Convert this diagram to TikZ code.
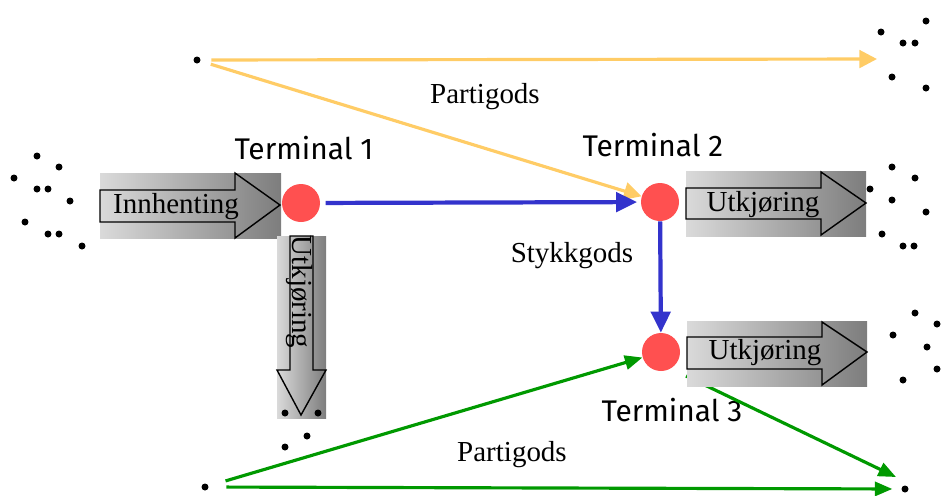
\documentclass[tikz,border=0pt]{standalone}
\usepackage{fontspec}
\setmainfont{Liberation Serif}
\newfontfamily\termfont{Fira Sans}
\usetikzlibrary{arrows.meta}
\definecolor{termred}{RGB}{255,80,80}
\definecolor{stykkblue}{RGB}{51,51,204}
\definecolor{partiyellow}{RGB}{255,204,102}
\definecolor{partigreen}{RGB}{0,153,0}
\definecolor{arrlight}{RGB}{218,218,218}
\definecolor{arrdark}{RGB}{125,125,125}
\tikzset{
  terminal/.style={circle, fill=termred, inner sep=0pt, minimum size=0.76cm},
  dot/.style={circle, fill=black, inner sep=0pt, minimum size=0.14cm},
  tname/.style={font=\termfont\fontsize{17}{20}\selectfont},
  lbl/.style={font=\fontsize{16.5}{19}\selectfont, inner sep=0pt},
  blockline/.style={draw=black, line width=0.8pt, line join=miter},
  stykk/.style={draw=stykkblue, line width=2.4pt, -{Triangle[length=12pt,width=11pt]}},
  partiy/.style={draw=partiyellow, line width=1.8pt, -{Triangle[length=10pt,width=10pt]}},
  partig/.style={draw=partigreen, line width=1.8pt, -{Triangle[length=10pt,width=8pt]}}
}
\begin{document}
\begin{tikzpicture}[x=0.02cm,y=-0.02cm]
  \useasboundingbox (0,0) rectangle (943,495);

  % terminals
  \node[terminal] (t1) at (301,203) {};
  \node[terminal] (t2) at (660,202) {};
  \node[terminal] (t3) at (661,352) {};
  \node[tname] (t1name) at (304,148) {Terminal 1};
  \node[tname] (t2name) at (653,145) {Terminal 2};
  \node[tname] (t3name) at (672,410) {Terminal 3};

  % customers
  \foreach \p [count=\i] in {(37,156),(59,167),(14,178),(37,189),(48,189),(70,201),(25,222),(48,234),(59,234),(82,246)}
    \node[dot] (l\i) at \p {};
  \foreach \p [count=\i] in {(926,21),(881,32),(903,43),(915,43),(892,77),(926,88)}
    \node[dot] (a\i) at \p {};
  \foreach \p [count=\i] in {(870,189),(892,167),(915,178),(892,200),(926,212),(882,234),(903,246),(914,246)}
    \node[dot] (b\i) at \p {};
  \foreach \p [count=\i] in {(915,313),(937,324),(893,335),(927,347),(937,369),(903,380)}
    \node[dot] (c\i) at \p {};
  \foreach \p [count=\i] in {(307,436),(285,447)}
    \node[dot] (d\i) at \p {};
  \node[dot] (ysrc) at (197,60) {};
  \node[dot] (gsrc) at (205,487) {};
  \node[dot] (gdst) at (905,489) {};
  \coordinate (yend) at (877,59);
  \coordinate (gout) at (686,376);
  \coordinate (gend) at (896,477);

  % partigods
  \draw[partiy, shorten <=6pt] (ysrc) -- (yend);
  \draw[partiy, shorten <=6pt] (ysrc) -- (t2);
  \node[lbl] (py) at (485,97) {Partigods};
  \draw[partig, shorten <=10pt] (gsrc) -- (t3);
  \draw[partig, shorten <=10pt, shorten >=5pt] (gsrc) -- (gdst);
  \draw[partig] (gout) -- (gend);
  \node[lbl] (pg) at (512,455) {Partigods};

  % stykkgods
  \draw[stykk, shorten <=3pt, shorten >=2pt] (t1) -- (t2);
  \draw[stykk, shorten >=0pt] (t2) -- (t3);
  \node[lbl] (sg) at (572,256) {Stykkgods};

  % innhenting
  \shade[left color=arrlight, right color=arrdark] (100,173) rectangle (281,238);
  \draw[blockline] (100,190) -- (235,190) -- (235,173) -- (280,205) -- (235,238) -- (235,222) -- (100,222) -- cycle;
  \node[lbl] (inn) at (176,207) {Innhenting};

  % utkjoring
  \shade[left color=arrlight, right color=arrdark] (277,236) rectangle (326,418);
  \draw[blockline] (290,236) -- (290,370) -- (277,370) -- (301,415) -- (326,370) -- (313,370) -- (313,236) -- cycle;
  \node[lbl, rotate=-90] (u1) at (299,292) {Utkjøring};
  \shade[left color=arrlight, right color=arrdark] (686,171) rectangle (866,236);
  \draw[blockline] (686,188) -- (821,188) -- (821,172) -- (866,203) -- (821,235) -- (821,219) -- (686,219) -- cycle;
  \node[lbl] (u2) at (763,205) {Utkjøring};
  \shade[left color=arrlight, right color=arrdark] (687,321) rectangle (867,386);
  \draw[blockline] (687,337) -- (822,337) -- (822,322) -- (867,352) -- (822,385) -- (822,369) -- (687,369) -- cycle;
  \node[lbl] (u3) at (765,353) {Utkjøring};

  \node[dot] (d3) at (285,413) {};
  \node[dot] (d4) at (318,413) {};
\end{tikzpicture}
\end{document}
